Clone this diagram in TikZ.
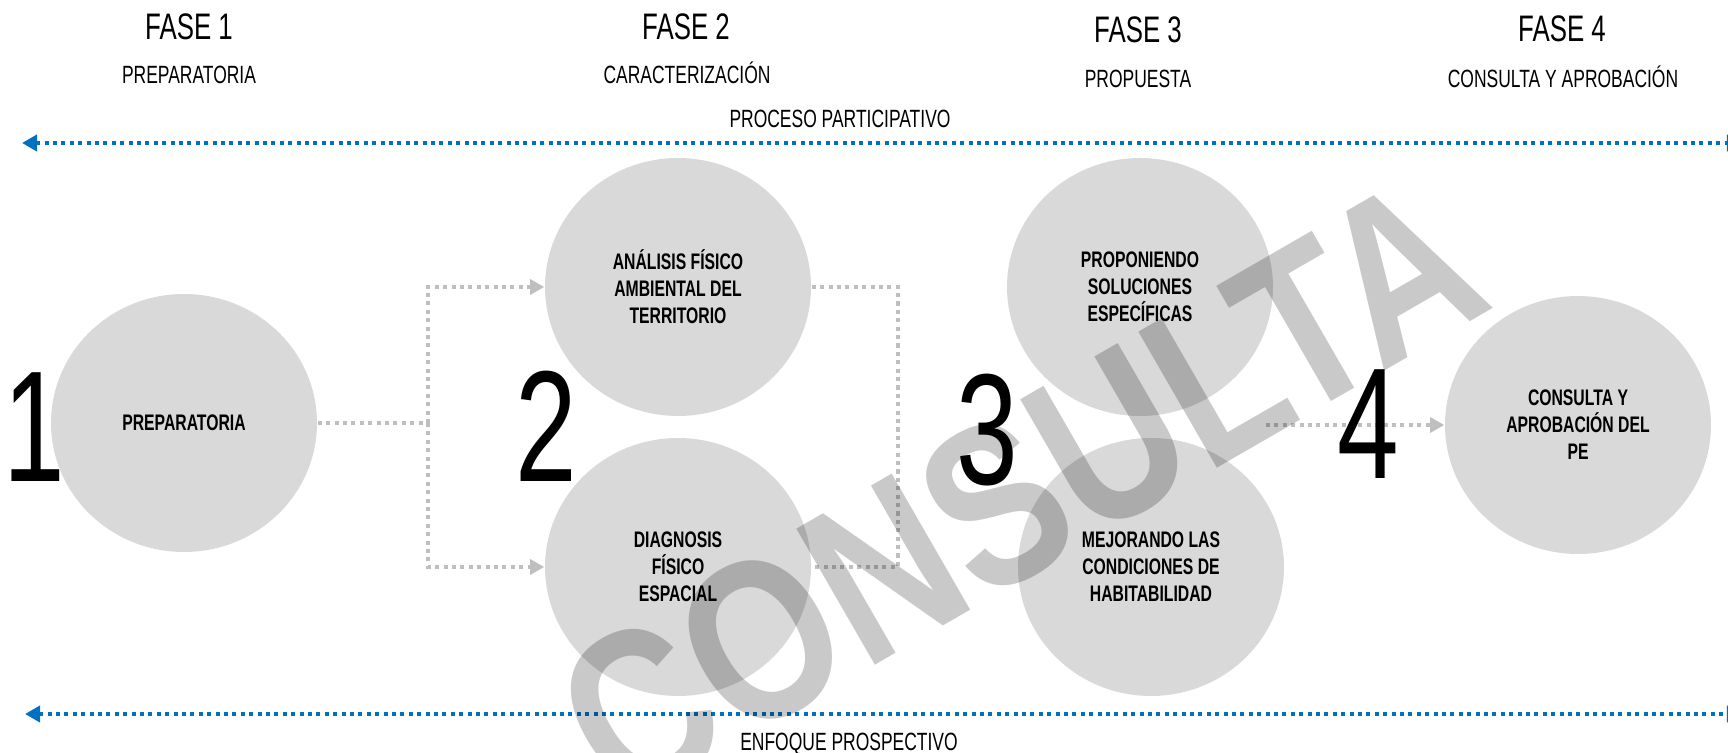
\documentclass[tikz,border=0pt]{standalone}
\usepackage{fontspec}
\setmainfont{Liberation Sans}[FakeStretch=0.7]
\newfontfamily\markfont{Liberation Sans}[FakeStretch=0.82]
\usetikzlibrary{arrows.meta, shapes.geometric}

\definecolor{bubblegray}{HTML}{D9D9D9}
\definecolor{linegray}{HTML}{BFBFBF}
\definecolor{axisblue}{HTML}{0070C0}

\tikzset{
    phase/.style={anchor=base, inner sep=0, font=\fontsize{10.5}{12}\selectfont},
    subphase/.style={anchor=base, inner sep=0, font=\fontsize{7.1}{8.5}\selectfont},
    bubble/.style={ellipse, fill=bubblegray, minimum width=2.66cm, minimum height=2.58cm,
        inner sep=0, align=center, font=\bfseries\fontsize{6.4}{7.7}\selectfont},
    bignum/.style={anchor=base, inner sep=0, font=\fontsize{45}{50}\selectfont},
    flow/.style={draw=linegray, line width=1.14pt, dash pattern=on 1.14pt off 1.25pt},
    flowtip/.style={-{Triangle[length=4pt, width=4.2pt, fill=linegray]}},
    axis/.style={draw=axisblue, line width=1.14pt, dash pattern=on 1.14pt off 1.25pt,
        {Triangle[length=4.3pt, width=4.6pt]}-{Triangle[length=4.3pt, width=4.6pt]}},
}

\begin{document}
\begin{tikzpicture}
    \useasboundingbox (0,0) rectangle (17.28,7.53);

    % phase headings
    \node[phase] at (1.89,7.13)   (f1) {FASE 1};
    \node[phase] at (6.86,7.13)   (f2) {FASE 2};
    \node[phase] at (11.38,7.10)  (f3) {FASE 3};
    \node[phase] at (15.62,7.11)  (f4) {FASE 4};
    \node[subphase] at (1.89,6.69)  (s1) {PREPARATORIA};
    \node[subphase] at (6.87,6.69)  (s2) {CARACTERIZACIÓN};
    \node[subphase] at (11.38,6.65) (s3) {PROPUESTA};
    \node[subphase] at (15.63,6.65) (s4) {CONSULTA Y APROBACIÓN};

    % participative process and prospective approach
    \node[subphase] at (8.40,6.25) (proc) {PROCESO PARTICIPATIVO};
    \node[subphase] at (8.49,0.03) (enf)  {ENFOQUE PROSPECTIVO};
    \coordinate (pl) at (0.22,6.10);
    \coordinate (pr) at (17.42,6.10);
    \coordinate (ql) at (0.25,0.39);
    \coordinate (qr) at (17.42,0.39);
    \draw[axis] (pl) -- (pr);
    \draw[axis] (ql) -- (qr);

    % bubbles
    \node[bubble] at (1.84,3.30)  (prep) {PREPARATORIA};
    \node[bubble] at (6.78,4.66)  (ana)  {ANÁLISIS FÍSICO\\AMBIENTAL DEL\\TERRITORIO};
    \node[bubble] at (6.78,1.86)  (diag) {DIAGNOSIS\\FÍSICO\\ESPACIAL};
    \node[bubble] at (11.40,4.66) (prop) {PROPONIENDO\\SOLUCIONES\\ESPECÍFICAS};
    \node[bubble] at (11.51,1.86) (mej)  {MEJORANDO LAS\\CONDICIONES DE\\HABITABILIDAD};
    \node[bubble] at (15.78,3.28) (cons) {CONSULTA Y\\APROBACIÓN DEL\\PE};

    % connectors
    \coordinate (split) at (4.28,3.30);
    \coordinate (merge) at (8.98,3.26);
    \coordinate (out3)  at (12.66,3.28);
    \draw[flow] (prep) -- (split);
    \draw[flow, flowtip] (split) |- (ana);
    \draw[flow, flowtip] (split) |- (diag);
    \draw[flow] (ana.east) -| (merge) |- (diag.east);
    \draw[flow, flowtip] (out3) -- (cons.west);

    % big numbers
    \node[bignum] at (0.34,2.71)  (n1) {1};
    \node[bignum] at (5.46,2.71)  (n2) {2};
    \node[bignum] at (9.87,2.68)  (n3) {3};
    \node[bignum] at (13.68,2.74) (n4) {4};

    % watermark
    \node[rotate=30, fill opacity=0, text opacity=0.21, inner sep=0,
        font=\markfont\bfseries\fontsize{65}{70}\selectfont] at (10.20,2.62) (mark) {CONSULTA};
\end{tikzpicture}
\end{document}
